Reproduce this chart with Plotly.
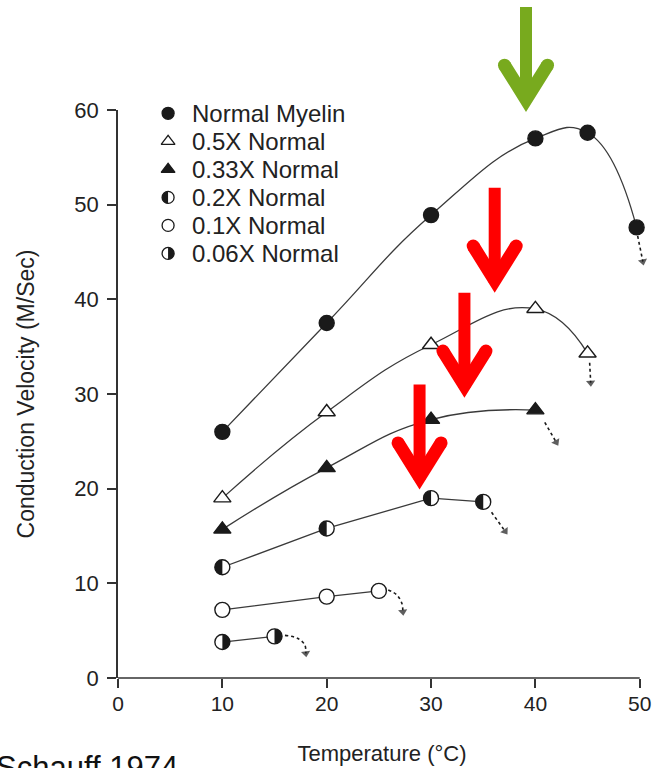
import math
import plotly.graph_objects as go

# ---------------- data ----------------
series_names = ["Normal Myelin", "0.5X Normal", "0.33X Normal", "0.2X Normal", "0.1X Normal", "0.06X Normal"]

temp_normal = [10, 20, 30, 40, 45, 49.7]
vel_normal = [26.0, 37.5, 48.9, 57.0, 57.6, 47.6]

temp_05 = [10, 20, 30, 40, 45]
vel_05 = [19.0, 28.1, 35.2, 39.0, 34.3]

temp_033 = [10, 20, 30, 40]
vel_033 = [15.7, 22.2, 27.3, 28.3]

temp_02 = [10, 20, 30, 35]
vel_02 = [11.7, 15.8, 19.0, 18.6]

temp_01 = [10, 20, 25]
vel_01 = [7.2, 8.6, 9.2]

temp_006 = [10, 15]
vel_006 = [3.8, 4.4]

# dotted "conduction block" arrows after the last point of each series
decay_x = {
    "Normal Myelin": [49.8, 50.3],
    "0.5X Normal": [45.2, 45.3],
    "0.33X Normal": [40.9, 42.0],
    "0.2X Normal": [35.8, 37.1],
    "0.1X Normal": [25.9, 26.7, 27.2, 27.3],
    "0.06X Normal": [16.0, 17.2, 17.9, 18.0],
}
decay_y = {
    "Normal Myelin": [46.7, 44.0],
    "0.5X Normal": [33.3, 31.2],
    "0.33X Normal": [27.0, 24.9],
    "0.2X Normal": [17.5, 15.5],
    "0.1X Normal": [9.3, 8.8, 7.9, 7.0],
    "0.06X Normal": [4.5, 4.2, 3.5, 2.6],
}

# big highlight arrows (tip position in data units)
arrow_x = [39.1, 36.1, 33.2, 28.9]
arrow_y = [59.8, 40.7, 29.6, 19.9]
arrow_colors = ["#78AA1E", "#FF0000", "#FF0000", "#FF0000"]

x_ticks = [0, 10, 20, 30, 40, 50]
y_ticks = [0, 10, 20, 30, 40, 50, 60]

# ---------------- style ----------------
FONT = "Liberation Sans"
LINE = "#3a3a3a"
INK = "#1a1a1a"
XMAX = 50.6
YMAX = 60
MS = 15

series = [
    ("Normal Myelin", temp_normal, vel_normal, "circle", INK, "spline", None),
    ("0.5X Normal", temp_05, vel_05, "triangle-up", "white", "spline", None),
    ("0.33X Normal", temp_033, vel_033, "triangle-up", INK, "spline", None),
    ("0.2X Normal", temp_02, vel_02, "circle", "white", "linear", "left"),
    ("0.1X Normal", temp_01, vel_01, "circle", "white", "linear", None),
    ("0.06X Normal", temp_006, vel_006, "circle", "white", "linear", "right"),
]

fig = go.Figure()
shapes = []


def half_path(r, side):
    k = 0.5523 * r
    s = -1 if side == "left" else 1
    return (f"M 0,{r} C {s*k},{r} {s*r},{k} {s*r},0 "
            f"C {s*r},{-k} {s*k},{-r} 0,{-r} Z")


for name, xs, ys, sym, fill, shape, half in series:
    fig.add_trace(go.Scatter(
        x=xs, y=ys, mode="lines+markers", name=name, showlegend=False,
        line=dict(color=LINE, width=1.3, shape=shape, smoothing=1.3),
        marker=dict(symbol=sym, size=MS, color=fill,
                    line=dict(color=INK, width=1.4)),
        cliponaxis=False,
    ))
    if half:
        for x, y in zip(xs, ys):
            shapes.append(dict(type="path", xref="x", yref="y",
                               xsizemode="pixel", ysizemode="pixel",
                               xanchor=x, yanchor=y,
                               path=half_path(MS / 2, half),
                               fillcolor=INK, line=dict(width=0)))
    # dotted decay arrow
    dx, dy = decay_x[name], decay_y[name]
    fig.add_trace(go.Scatter(
        x=dx, y=dy, mode="lines+markers", showlegend=False,
        line=dict(color=INK, width=1.6, dash="dot", shape="spline"),
        marker=dict(symbol="triangle-up", size=[0] * (len(dx) - 1) + [8],
                    color=INK, angleref="previous", line=dict(width=0)),
        cliponaxis=False,
    ))

# ---------------- manual legend ----------------
LEG_X = 4.8
LEG_TX = 6.9
LEG_Y0 = 59.65
LEG_DY = 2.96
LMS = 12
annotations = []
for i, (name, xs, ys, sym, fill, shape, half) in enumerate(series):
    ly = LEG_Y0 - i * LEG_DY
    fig.add_trace(go.Scatter(
        x=[LEG_X], y=[ly], mode="markers", showlegend=False,
        marker=dict(symbol=sym, size=LMS, color=fill,
                    line=dict(color=INK, width=1.3)),
        cliponaxis=False,
    ))
    if half:
        shapes.append(dict(type="path", xref="x", yref="y",
                           xsizemode="pixel", ysizemode="pixel",
                           xanchor=LEG_X, yanchor=ly,
                           path=half_path(LMS / 2, half),
                           fillcolor=INK, line=dict(width=0)))
    annotations.append(dict(x=LEG_TX, y=ly, xref="x", yref="y", text=name,
                            showarrow=False, xanchor="left", yanchor="middle",
                            font=dict(family=FONT, size=24, color="#222")))

# ---------------- big arrows (pixel geometry anchored at tip) ----------------
alpha = math.radians(32)
sa, ca = math.sin(alpha), math.cos(alpha)
T = 13.0      # arm thickness
LG = 51.0     # arm length along outer edge
SHAFT = 105.0
SW = 12.0
po_l = (-LG * sa, LG * ca)
pi_l = (po_l[0] + T * ca, po_l[1] + T * sa)
iv = T / sa
chev = (f"M 0,0 L {po_l[0]:.2f},{po_l[1]:.2f} L {pi_l[0]:.2f},{pi_l[1]:.2f} "
        f"L 0,{iv:.2f} L {-pi_l[0]:.2f},{pi_l[1]:.2f} L {-po_l[0]:.2f},{po_l[1]:.2f} Z")
shaft = (f"M {-SW/2},{10} L {SW/2},{10} L {SW/2},{SHAFT} L {-SW/2},{SHAFT} Z")
cap_c = ((po_l[0] + pi_l[0]) / 2, (po_l[1] + pi_l[1]) / 2)
for ax_, ay_, col in zip(arrow_x, arrow_y, arrow_colors):
    common = dict(xref="paper", yref="paper", xsizemode="pixel", ysizemode="pixel",
                  xanchor=ax_ / XMAX, yanchor=ay_ / YMAX,
                  fillcolor=col, line=dict(width=0), layer="above")
    shapes.append(dict(type="path", path=chev, **common))
    shapes.append(dict(type="path", path=shaft, **common))
    for sx in (-1, 1):
        cx, cy = sx * cap_c[0], cap_c[1]
        shapes.append(dict(type="circle", x0=cx - T / 2, x1=cx + T / 2,
                           y0=cy - T / 2, y1=cy + T / 2, **common))

# x-axis line (drawn to 50 only)
shapes.append(dict(type="line", xref="paper", yref="paper", x0=-0.0, x1=50 / XMAX,
                   y0=0, y1=0, line=dict(color="#333", width=1.5), layer="above"))

annotations.append(dict(x=-0.235, y=-0.123, xref="paper", yref="paper",
                        text="Schauff 1974", showarrow=False, xanchor="left",
                        yanchor="top", font=dict(family=FONT, size=31, color="#111")))

fig.update_layout(
    width=654, height=768,
    margin=dict(l=118, r=8, t=110, b=90),
    paper_bgcolor="white", plot_bgcolor="white",
    font=dict(family=FONT, color="#222"),
    shapes=shapes, annotations=annotations,
    xaxis=dict(range=[0, XMAX], tickvals=x_ticks, ticks="outside", ticklen=9,
               tickwidth=1.5, tickcolor="#333", showline=False, showgrid=False,
               zeroline=False, automargin=False,
               tickfont=dict(family=FONT, size=21, color="#222"),
               ticklabelstandoff=-2,
               title=dict(text="Temperature (°C)", standoff=31,
                          font=dict(family=FONT, size=22, color="#222"))),
    yaxis=dict(range=[0, YMAX], tickvals=y_ticks, ticks="outside", ticklen=9,
               tickwidth=1.5, tickcolor="#333", showline=True, linecolor="#333",
               linewidth=1.5, showgrid=False, zeroline=False, automargin=False,
               tickfont=dict(family=FONT, size=22, color="#222"),
               ticklabelstandoff=4,
               title=dict(text="Conduction Velocity (M/Sec)", standoff=33,
                          font=dict(family=FONT, size=23, color="#222"))),
)

fig.write_html("out.html", config={"displayModeBar": False},
               post_script="document.body.style.margin='0';document.body.style.overflow='hidden';")
